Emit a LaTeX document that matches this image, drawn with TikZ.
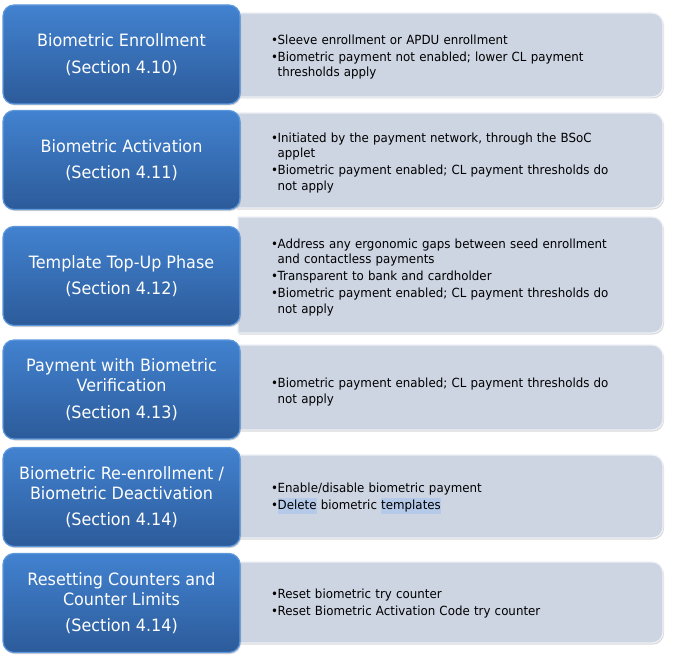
\documentclass[tikz,border=0pt]{standalone}
\usepackage{fontspec}
\setmainfont{DejaVu Sans}[FakeStretch=0.94]
\usetikzlibrary{shadows}
\definecolor{bluetop}{HTML}{4282D0}
\definecolor{bluemid}{HTML}{3773BF}
\definecolor{bluebot}{HTML}{2C5B9A}
\definecolor{blueedge}{HTML}{5E98DC}
\definecolor{grayfill}{HTML}{CDD4E2}
\definecolor{grayedge}{HTML}{EEF1F6}
\definecolor{hl}{HTML}{B5CAE8}
\newcommand{\bitem}[1]{\par\hangindent=6.5pt\hangafter=1\noindent\makebox[6.5pt][l]{\textbullet}#1\par}
\newcommand{\hlword}[1]{{\setlength{\fboxsep}{0pt}\colorbox{hl}{\strut#1}}}
\tikzset{
  bluebox/.style={rectangle, rounded corners=11pt, minimum width=237pt, minimum height=99pt,
    top color=bluetop, middle color=bluemid, bottom color=bluebot, draw=blueedge, line width=1.2pt,
    text=white, align=center, font=\fontsize{17}{20}\selectfont, inner sep=0pt,
    drop shadow={opacity=0.35, shadow xshift=1pt, shadow yshift=-1.5pt}},
  graybox/.style={fill=grayfill, draw=grayedge, line width=1.2pt,
    drop shadow={opacity=0.3, shadow xshift=1pt, shadow yshift=-1.5pt}},
  txt/.style={anchor=west, inner sep=0pt, text width=390pt, align=left,
    font=\fontsize{12.6}{15.5}\selectfont\setlength{\parskip}{1.5pt}, text=black}
}
\begin{document}
\begin{tikzpicture}[x=1pt,y=-1pt]
\useasboundingbox[fill=white] (0,0) rectangle (674,658);
% gray boxes
\path[graybox, rounded corners=11pt] (236,13) [sharp corners] -- (236,13) [rounded corners=11pt] -- (663,13) -- (663,97) [sharp corners] -- (236,97) -- cycle;
\path[graybox, rounded corners=11pt] (236,113) [sharp corners] -- (236,113) [rounded corners=11pt] -- (663,113) -- (663,208) [sharp corners] -- (236,208) -- cycle;
\path[graybox, rounded corners=11pt] (238,217) [sharp corners] -- (238,217) [rounded corners=11pt] -- (663,217) -- (663,333) [sharp corners] -- (238,333) -- cycle;
\path[graybox, rounded corners=11pt] (236,345) [sharp corners] -- (236,345) [rounded corners=11pt] -- (663,345) -- (663,430) [sharp corners] -- (236,430) -- cycle;
\path[graybox, rounded corners=11pt] (236,455) [sharp corners] -- (236,455) [rounded corners=11pt] -- (663,455) -- (663,538) [sharp corners] -- (236,538) -- cycle;
\path[graybox, rounded corners=11pt] (236,562) [sharp corners] -- (236,562) [rounded corners=11pt] -- (663,562) -- (663,643) [sharp corners] -- (236,643) -- cycle;
% blue boxes
\node[bluebox] (b1) at (121.5,54.5) {Biometric Enrollment\\[6.5pt](Section 4.10)};
\node[bluebox] (b2) at (121.5,160) {Biometric Activation\\[6.5pt](Section 4.11)};
\node[bluebox] (b3) at (121.5,276) {Template Top-Up Phase\\[6.5pt](Section 4.12)};
\node[bluebox] (b4) at (121.5,389.5) {Payment with Biometric\\Verification\\[6.5pt](Section 4.13)};
\node[bluebox] (b5) at (121.5,497) {Biometric Re-enrollment /\\Biometric Deactivation\\[6.5pt](Section 4.14)};
\node[bluebox] (b6) at (121.5,603) {Resetting Counters and\\Counter Limits\\[6.5pt](Section 4.14)};
% texts
\node[txt] (t1) at (271,53.5) {\bitem{Sleeve enrollment or APDU enrollment}\bitem{Biometric payment not enabled; lower CL payment\newline thresholds apply}};
\node[txt] (t2) at (271,159) {\bitem{Initiated by the payment network, through the BSoC\newline applet}\bitem{Biometric payment enabled; CL payment thresholds do\newline not apply}};
\node[txt] (t3) at (271,273.5) {\bitem{Address any ergonomic gaps between seed enrollment\newline and contactless payments}\bitem{Transparent to bank and cardholder}\bitem{Biometric payment enabled; CL payment thresholds do\newline not apply}};
\node[txt] (t4) at (271,388.5) {\bitem{Biometric payment enabled; CL payment thresholds do\newline not apply}};
\node[txt] (t5) at (271,494.5) {\bitem{Enable/disable biometric payment}\bitem{\hlword{Delete} biometric \hlword{templates}}};
\node[txt] (t6) at (271,600) {\bitem{Reset biometric try counter}\bitem{Reset Biometric Activation Code try counter}};
\end{tikzpicture}
\end{document}
